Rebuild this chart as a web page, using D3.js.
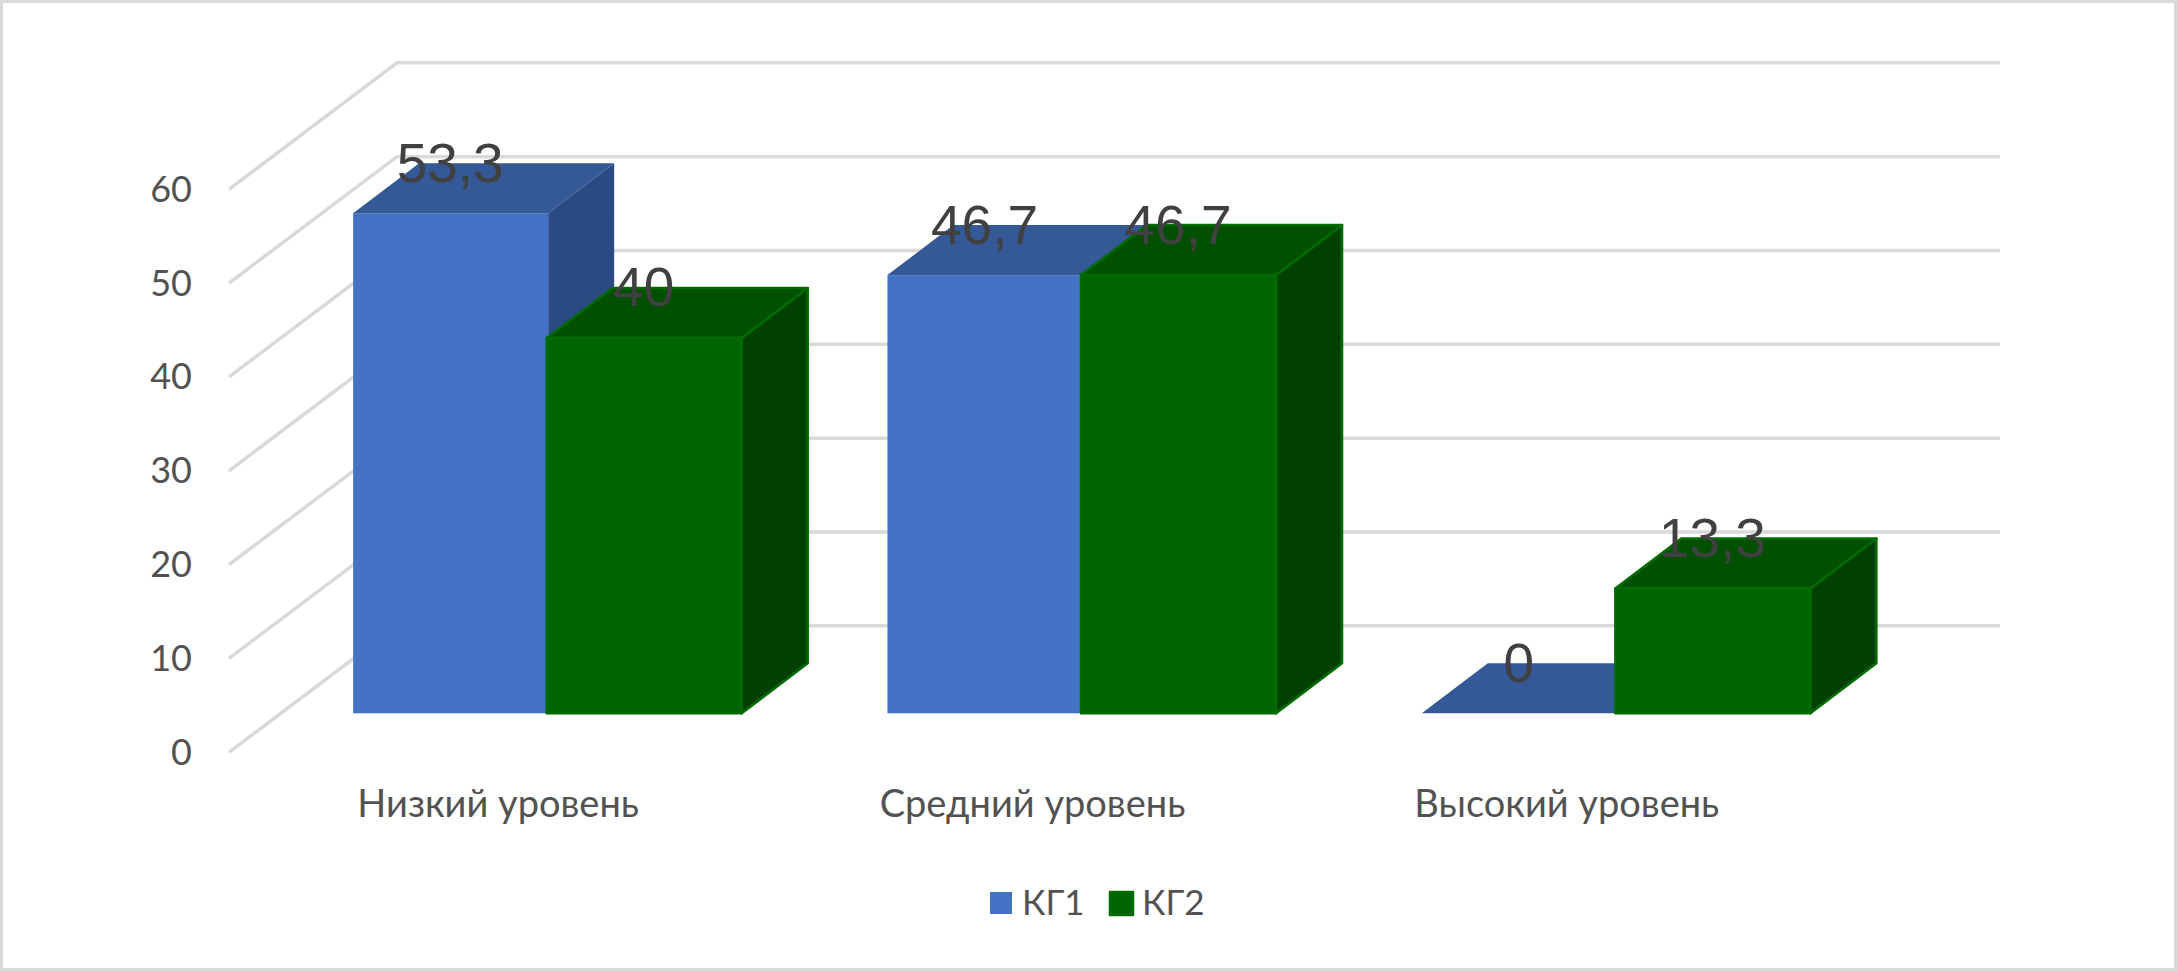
<!DOCTYPE html>
<html><head><meta charset="utf-8">
<style>html,body{margin:0;padding:0;background:#fff}svg{display:block}</style>
<script src="https://cdn.jsdelivr.net/npm/d3@7"></script></head>
<body><svg id="c" width="2177" height="971"></svg>
<script>
const categories = ["Низкий уровень","Средний уровень","Высокий уровень"];
const seriesNames = ["КГ1","КГ2"];
const kg1 = [53.3,46.7,0];
const kg2 = [40,46.7,13.3];
const yTicks = [0,10,20,30,40,50,60];
const seriesValues = [kg1,kg2];
const palette = [
 {front:"#4472C4",top:"#355896",side:"#2C4A82",stroke:"none"},
 {front:"#006400",top:"#005000",side:"#004000",stroke:"#006C00"}];
const textFont = "Lato,'Open Sans',sans-serif";
const textColor = "#525252";

const svg = d3.select("#c");
svg.append("rect").attr("x",1.5).attr("y",1.5).attr("width",2174).attr("height",968)
   .attr("fill","#fff").attr("stroke","#d9d9d9").attr("stroke-width",3);

const dx=66, dy=50;              // bar depth
const y = d3.scaleLinear().domain([0,60]).range([713.3,150.3]);
const x0 = d3.scaleBand().domain(categories).range([281,1884]).paddingInner(0.27).paddingOuter(0.135);
const x1 = d3.scaleBand().domain(seriesNames).range([0,x0.bandwidth()]);
const seriesShift = [0,-1.5];
const yFront = v => y(v)+39;      // left edge of the floor / wall
const yBack = v => y(v)-87.5;

// gridlines
const grid = svg.append("g").attr("fill","none").attr("stroke","#d9d9d9").attr("stroke-width",3.5);
grid.selectAll("path").data(yTicks).join("path")
  .attr("d",t=>`M229,${yFront(t)}L397,${yBack(t)}L2000,${yBack(t)}`);

// y tick labels
svg.append("g").selectAll("text").data(yTicks).join("text")
  .attr("x",192).attr("y",t=>yFront(t)+12.5).attr("text-anchor","end")
  .attr("font-family",textFont).attr("font-size",36).attr("fill",textColor).text(d=>d);

// bars
seriesNames.forEach((s,si)=>{
  const p=palette[si];
  const g=svg.append("g").attr("stroke",p.stroke).attr("stroke-width",si?2.5:0).attr("stroke-linejoin","round");
  seriesValues[si].forEach((v,ci)=>{
    const L=x0(categories[ci])+x1(s)+seriesShift[si], R=L+x1.bandwidth(), T=y(v), B=y(0);
    g.append("path").attr("fill",p.side).attr("d",`M${R},${T}L${R+dx},${T-dy}L${R+dx},${B-dy}L${R},${B}Z`);
    g.append("path").attr("fill",p.top).attr("d",`M${L},${T}L${L+dx},${T-dy}L${R+dx},${T-dy}L${R},${T}Z`);
    if(v>0) g.append("rect").attr("fill",p.front).attr("x",L).attr("y",T).attr("width",R-L).attr("height",B-T);
  });
});
// data labels
seriesNames.forEach((s,si)=>{
  svg.append("g").selectAll("text").data(seriesValues[si]).join("text")
   .attr("x",(v,i)=>x0(categories[i])+x1(s)+seriesShift[si]+x1.bandwidth()/2-0.5)
   .attr("y",v=>y(v)-31.5).attr("text-anchor","middle")
   .attr("font-family","'Liberation Sans',sans-serif").attr("font-size",55).attr("fill","#404040")
   .text(v=>String(v).replace(".",","));
});
// category labels
svg.append("g").selectAll("text").data(categories).join("text")
  .attr("x",(c,i)=>x0(c)+x0.bandwidth()/2-50).attr("y",816.5).attr("text-anchor","middle")
  .attr("font-family",textFont).attr("font-size",38).attr("fill",textColor).text(d=>d);
// legend
const lx=[990,1110];
const lg=svg.append("g").selectAll("g").data(seriesNames).join("g").attr("transform",(d,i)=>`translate(${lx[i]},892)`);
lg.append("rect").attr("width",(d,i)=>i?23:22).attr("height",(d,i)=>i?23:22).attr("fill",(d,i)=>palette[i].front)
  .attr("stroke",(d,i)=>i?palette[i].stroke:"none").attr("stroke-width",2.5).attr("stroke-linejoin","round");
lg.append("text").attr("x",32).attr("y",23).attr("font-family",textFont).attr("font-size",35).attr("fill",textColor).text(d=>d);
</script></body></html>
